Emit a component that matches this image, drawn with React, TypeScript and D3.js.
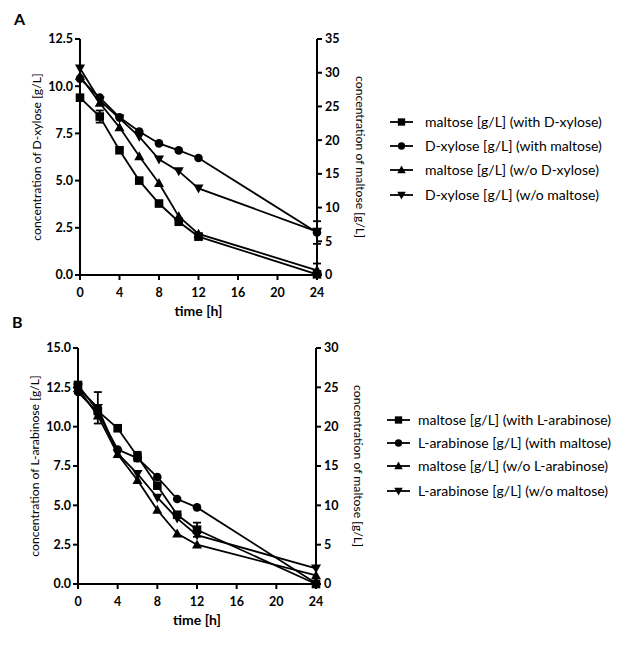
import React from "react";
import * as d3 from "d3";

const times = [0, 2, 4, 6, 8, 10, 12, 24];
const xTicks = [0, 4, 8, 12, 16, 20, 24];

// Panel A
const maltoseWithXylose = [26.3, 23.5, 18.5, 14.0, 10.6, 7.9, 5.7, 0.1];
const maltoseWithXyloseErr = [0, 0.9, 0, 0, 0, 0, 0.45, 0];
const xyloseWithMaltose = [10.4, 9.4, 8.35, 7.6, 6.97, 6.6, 6.2, 2.25];
const xyloseWithMaltoseErr = [0, 0, 0, 0, 0, 0, 0, 0.6];
const maltoseWoXylose = [29.5, 25.5, 21.9, 17.6, 13.6, 8.7, 6.1, 0.7];
const maltoseWoXyloseErr = [0, 0, 0, 0, 0, 0, 0, 1.0];
const xyloseWoMaltose = [10.95, 9.25, 8.3, 7.33, 6.13, 5.5, 4.59, 2.3];
const xyloseWoMaltoseErr = [0, 0, 0, 0, 0, 0, 0, 0];

// Panel B
const maltoseWithArabinose = [25.3, 22.0, 19.8, 16.2, 12.5, 8.8, 6.9, 0];
const maltoseWithArabinoseErr = [0, 0, 0, 0.6, 0, 0, 0.9, 0];
const arabinoseWithMaltose = [12.2, 10.9, 8.55, 8.0, 6.8, 5.4, 4.87, 0.05];
const arabinoseWithMaltoseErr = [0, 0, 0, 0, 0, 0, 0, 0];
const maltoseWoArabinose = [24.9, 21.4, 16.5, 13.2, 9.4, 6.4, 5.0, 1.1];
const maltoseWoArabinoseErr = [0, 0, 0, 0, 0, 0, 0, 0];
const arabinoseWoMaltose = [12.5, 11.2, 8.3, 7.0, 5.5, 4.17, 3.11, 1.0];
const arabinoseWoMaltoseErr = [0, 1.0, 0, 0, 0, 0, 0, 0];

const leftTicksA = [0, 2.5, 5, 7.5, 10, 12.5];
const rightTicksA = [0, 5, 10, 15, 20, 25, 30, 35];
const leftTicksB = [0, 2.5, 5, 7.5, 10, 12.5, 15];
const rightTicksB = [0, 5, 10, 15, 20, 25, 30];

const legendA = [
  "maltose [g/L] (with D-xylose)",
  "D-xylose [g/L] (with maltose)",
  "maltose [g/L] (w/o D-xylose)",
  "D-xylose [g/L] (w/o maltose)",
];
const legendB = [
  "maltose [g/L] (with L-arabinose)",
  "L-arabinose [g/L] (with maltose)",
  "maltose [g/L] (w/o L-arabinose)",
  "L-arabinose [g/L] (w/o maltose)",
];

const FONT = "Lato, 'Open Sans', sans-serif";
type Shape = "square" | "circle" | "triangle" | "down";
const shapes: Shape[] = ["square", "circle", "triangle", "down"];

function Marker({ shape, x, y, s = 1 }: { shape: Shape; x: number; y: number; s?: number }) {
  if (shape === "square")
    return <rect x={x - 4.3 * s} y={y - 4.3 * s} width={8.6 * s} height={8.6 * s} fill="#000" />;
  if (shape === "circle") return <circle cx={x} cy={y} r={4.3 * s} fill="#000" />;
  if (shape === "triangle")
    return (
      <path d={`M${x},${y - 5.2 * s}L${x + 5 * s},${y + 3.8 * s}L${x - 5 * s},${y + 3.8 * s}Z`} fill="#000" />
    );
  return <path d={`M${x},${y + 5.2 * s}L${x + 5 * s},${y - 3.8 * s}L${x - 5 * s},${y - 3.8 * s}Z`} fill="#000" />;
}

interface PanelProps {
  letter: string;
  letterX: number;
  letterY: number;
  x0: number;
  x1: number;
  yTop: number;
  yBot: number;
  leftMax: number;
  rightMax: number;
  leftTicks: number[];
  rightTicks: number[];
  leftLabel: string;
  rightLabel: string;
  series: { values: number[]; err: number[]; axis: "left" | "right"; shape: Shape }[];
  legend: string[];
  legendX: number;
  legendTextX: number;
  legendYs: number[];
  leftLabelX: number;
  rightLabelX: number;
}

function Panel(p: PanelProps) {
  const x = d3.scaleLinear().domain([0, 24]).range([p.x0, p.x1]);
  const yl = d3.scaleLinear().domain([0, p.leftMax]).range([p.yBot, p.yTop]);
  const yr = d3.scaleLinear().domain([0, p.rightMax]).range([p.yBot, p.yTop]);
  const line = (sc: d3.ScaleLinear<number, number>) =>
    d3
      .line<number>()
      .x((_, i) => x(times[i]))
      .y((d) => sc(d));
  const midY = (p.yTop + p.yBot) / 2;
  return (
    <g>
      <text x={p.letterX} y={p.letterY} fontFamily={FONT} fontWeight={700} fontSize={16}>
        {p.letter}
      </text>
      {p.series.map((s, si) => {
        const sc = s.axis === "left" ? yl : yr;
        return (
          <g key={si}>
            <path d={line(sc)(s.values) || ""} fill="none" stroke="#000" strokeWidth={1.8} />
            {s.values.map((v, i) =>
              s.err[i] > 0 ? (
                <g key={"e" + i} stroke="#000" strokeWidth={1.8}>
                  <line x1={x(times[i])} x2={x(times[i])} y1={sc(v - s.err[i])} y2={sc(v + s.err[i])} />
                  <line x1={x(times[i]) - 4} x2={x(times[i]) + 4} y1={sc(v + s.err[i])} y2={sc(v + s.err[i])} />
                  <line x1={x(times[i]) - 4} x2={x(times[i]) + 4} y1={sc(v - s.err[i])} y2={sc(v - s.err[i])} />
                </g>
              ) : null
            )}
            {s.values.map((v, i) => (
              <Marker key={i} shape={s.shape} x={x(times[i])} y={sc(v)} />
            ))}
          </g>
        );
      })}
      <g stroke="#000" strokeWidth={2} fill="none">
        <line x1={p.x0} x2={p.x0} y1={p.yTop} y2={p.yBot + 1} />
        <line x1={p.x1} x2={p.x1} y1={p.yTop} y2={p.yBot + 1} />
        <line x1={p.x0 - 1} x2={p.x1 + 1} y1={p.yBot} y2={p.yBot} />
        {p.leftTicks.map((t) => (
          <line key={"l" + t} x1={p.x0 - 5} x2={p.x0} y1={yl(t)} y2={yl(t)} />
        ))}
        {p.rightTicks.map((t) => (
          <line key={"r" + t} x1={p.x1} x2={p.x1 + 5} y1={yr(t)} y2={yr(t)} />
        ))}
        {xTicks.map((t) => (
          <line key={"x" + t} x1={x(t)} x2={x(t)} y1={p.yBot} y2={p.yBot + 5} />
        ))}
      </g>
      <g fontFamily={FONT} fontWeight={700} fontSize={12.5} fill="#000">
        {p.leftTicks.map((t) => (
          <text key={"lt" + t} x={p.x0 - 7} y={yl(t)} dy="0.35em" textAnchor="end">
            {d3.format(".1f")(t)}
          </text>
        ))}
        {p.rightTicks.map((t) => (
          <text key={"rt" + t} x={p.x1 + 8} y={yr(t)} dy="0.35em" textAnchor="start">
            {t}
          </text>
        ))}
        {xTicks.map((t) => (
          <text key={"xt" + t} x={x(t)} y={p.yBot + 22} textAnchor="middle">
            {t}
          </text>
        ))}
        <text x={(p.x0 + p.x1) / 2} y={p.yBot + 41} textAnchor="middle" fontSize={14}>
          time [h]
        </text>
      </g>
      <g fontFamily={FONT} fontSize={12.2} fill="#000">
        <text transform={`translate(${p.leftLabelX},${midY}) rotate(-90)`} textAnchor="middle" dy="0.35em">
          {p.leftLabel}
        </text>
        <text transform={`translate(${p.rightLabelX},${midY}) rotate(90)`} textAnchor="middle" dy="0.35em">
          {p.rightLabel}
        </text>
      </g>
      <g>
        {p.legend.map((lab, i) => {
          const ly = p.legendYs[i];
          const lx = p.legendX;
          return (
            <g key={lab}>
              <line x1={lx} x2={lx + 23} y1={ly} y2={ly} stroke="#000" strokeWidth={1.8} />
              <Marker shape={shapes[i]} x={lx + 11.5} y={ly} s={0.85} />
              <text x={p.legendTextX} y={ly} dy="0.35em" fontFamily={FONT} fontSize={14}>
                {lab}
              </text>
            </g>
          );
        })}
      </g>
    </g>
  );
}

export default function App() {
  return (
    <svg width={632} height={646} style={{ position: "absolute", left: 0, top: 0, background: "#fff" }}>
      <rect width={632} height={646} fill="#fff" />
      <Panel
        letter="A"
        letterX={14}
        letterY={25}
        x0={80}
        x1={317}
        yTop={39}
        yBot={275}
        leftMax={12.5}
        rightMax={35}
        leftTicks={leftTicksA}
        rightTicks={rightTicksA}
        leftLabel="concentration of D-xylose [g/L]"
        rightLabel="concentration of maltose [g/L]"
        leftLabelX={37}
        rightLabelX={360}
        series={[
          { values: maltoseWithXylose, err: maltoseWithXyloseErr, axis: "right", shape: "square" },
          { values: xyloseWithMaltose, err: xyloseWithMaltoseErr, axis: "left", shape: "circle" },
          { values: maltoseWoXylose, err: maltoseWoXyloseErr, axis: "right", shape: "triangle" },
          { values: xyloseWoMaltose, err: xyloseWoMaltoseErr, axis: "left", shape: "down" },
        ]}
        legend={legendA}
        legendX={390}
        legendTextX={425}
        legendYs={[122, 146, 170, 195]}
      />
      <Panel
        letter="B"
        letterX={12}
        letterY={328}
        x0={78}
        x1={316}
        yTop={348}
        yBot={584}
        leftMax={15}
        rightMax={30}
        leftTicks={leftTicksB}
        rightTicks={rightTicksB}
        leftLabel="concentration of L-arabinose [g/L]"
        rightLabel="concentration of maltose [g/L]"
        leftLabelX={35}
        rightLabelX={358}
        series={[
          { values: maltoseWithArabinose, err: maltoseWithArabinoseErr, axis: "right", shape: "square" },
          { values: arabinoseWithMaltose, err: arabinoseWithMaltoseErr, axis: "left", shape: "circle" },
          { values: maltoseWoArabinose, err: maltoseWoArabinoseErr, axis: "right", shape: "triangle" },
          { values: arabinoseWoMaltose, err: arabinoseWoMaltoseErr, axis: "left", shape: "down" },
        ]}
        legend={legendB}
        legendX={387}
        legendTextX={418}
        legendYs={[420, 443, 466, 491]}
      />
    </svg>
  );
}
